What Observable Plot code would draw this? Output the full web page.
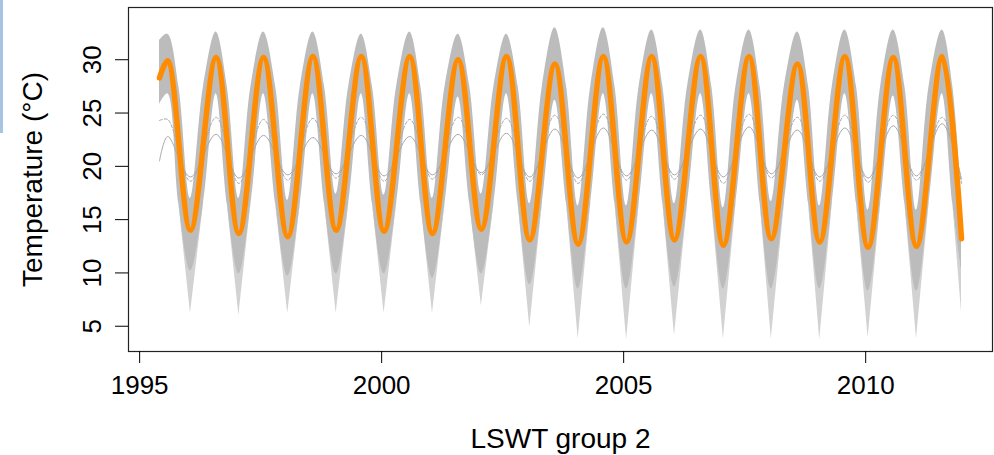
<!DOCTYPE html>
<html><head><meta charset="utf-8">
<script src="https://cdn.jsdelivr.net/npm/d3@7"></script>
<script src="https://cdn.jsdelivr.net/npm/@observablehq/plot@0.6"></script>
<style>
body{margin:0;background:#fff;}
#wrap{position:relative;width:994px;height:455px;}
#bar{position:absolute;left:0;top:0;width:3px;height:133px;background:#a7c4e2;}
</style>
</head><body><div id="wrap"><div id="bar"></div></div>
<script>
// Ensemble mean (orange) at its turning points
const meanYear = [1995.41, 1995.58, 1996.05, 1996.58, 1997.05, 1997.56, 1998.06, 1998.58, 1999.06, 1999.58, 2000.05, 2000.58, 2001.05, 2001.58, 2002.06, 2002.58, 2003.06, 2003.58, 2004.06, 2004.58, 2005.06, 2005.58, 2006.05, 2006.59, 2007.06, 2007.59, 2008.05, 2008.59, 2009.05, 2009.57, 2010.05, 2010.57, 2011.05, 2011.58, 2011.98];
const meanTemp = [28.3, 29.9, 14.0, 30.2, 13.7, 30.2, 13.4, 30.3, 14.0, 30.3, 13.9, 30.3, 13.7, 30.0, 14.1, 30.3, 13.1, 29.6, 12.7, 30.3, 12.9, 30.3, 13.1, 30.3, 12.6, 30.3, 13.2, 29.6, 12.9, 30.3, 12.4, 30.2, 12.5, 30.3, 13.2];

// Two low-amplitude ensemble members visible inside the band
const memberA = [24.3, 24.4, 18.6, 24.6, 18.4, 24.4, 18.7, 24.5, 18.9, 24.6, 18.6, 24.4, 18.8, 24.6, 19.2, 24.5, 18.6, 24.8, 18.4, 24.9, 18.7, 24.7, 18.8, 24.8, 18.4, 24.9, 18.9, 24.6, 18.6, 24.8, 18.5, 24.8, 18.7, 24.6, 18.4];
const memberB = [20.5, 22.8, 19.0, 23.0, 18.9, 22.9, 19.2, 22.7, 19.3, 22.9, 19.1, 22.8, 19.2, 23.0, 19.4, 23.1, 19.0, 23.5, 18.9, 23.6, 19.1, 23.4, 19.2, 23.5, 19.0, 23.7, 19.3, 23.4, 19.0, 23.6, 18.9, 23.8, 19.1, 24.0, 18.8];

// Envelope of the grey ensemble: peak, mid-fall, trough, mid-rise of every cycle
const bandYear = [1995.41, 1995.58, 1995.81, 1996.05, 1996.32, 1996.58, 1996.81, 1997.05, 1997.30, 1997.56, 1997.81, 1998.06, 1998.32, 1998.58, 1998.82, 1999.06, 1999.32, 1999.58, 1999.81, 2000.05, 2000.31, 2000.58, 2000.81, 2001.05, 2001.31, 2001.58, 2001.82, 2002.06, 2002.32, 2002.58, 2002.82, 2003.06, 2003.32, 2003.58, 2003.82, 2004.06, 2004.32, 2004.58, 2004.82, 2005.06, 2005.32, 2005.58, 2005.81, 2006.05, 2006.32, 2006.59, 2006.82, 2007.06, 2007.32, 2007.59, 2007.82, 2008.05, 2008.32, 2008.59, 2008.82, 2009.05, 2009.31, 2009.57, 2009.81, 2010.05, 2010.31, 2010.57, 2010.81, 2011.05, 2011.31, 2011.58, 2011.80, 2011.98];
const bandHigh = [31.8, 32.4, 27.5, 17.0, 27.5, 32.6, 27.5, 17.0, 27.5, 32.6, 27.5, 16.8, 27.5, 32.6, 27.5, 17.4, 27.5, 32.4, 27.5, 17.3, 27.5, 32.6, 27.5, 17.0, 27.5, 32.4, 27.5, 17.4, 27.5, 32.4, 27.5, 16.5, 27.5, 33.0, 27.5, 16.3, 27.5, 33.0, 27.5, 16.3, 27.5, 32.8, 27.5, 16.5, 27.5, 32.8, 27.5, 16.1, 27.5, 32.8, 27.5, 16.7, 27.5, 32.6, 27.5, 16.3, 27.5, 32.8, 27.5, 15.9, 27.5, 32.8, 27.5, 15.9, 27.5, 32.8, 27.5, 16.8];
const bandLow = [25.8, 26.8, 16.5, 10.2, 16.5, 26.8, 16.5, 9.9, 16.5, 26.8, 16.5, 9.7, 16.5, 26.8, 16.5, 9.9, 16.5, 26.8, 16.5, 9.9, 16.5, 26.8, 16.5, 9.5, 16.5, 26.5, 16.5, 9.9, 16.5, 26.8, 16.5, 8.9, 16.5, 26.2, 16.5, 8.5, 16.5, 26.8, 16.5, 8.5, 16.5, 26.8, 16.5, 8.7, 16.5, 26.8, 16.5, 8.5, 16.5, 26.8, 16.5, 8.5, 16.5, 26.2, 16.5, 8.5, 16.5, 26.8, 16.5, 8.3, 16.5, 26.6, 16.5, 8.3, 16.5, 26.8, 16.5, 10.0];
const bandTip = [25.8, 26.8, 16.5, 6.2, 16.5, 26.8, 16.5, 6.0, 16.5, 26.8, 16.5, 6.2, 16.5, 26.8, 16.5, 6.2, 16.5, 26.8, 16.5, 6.2, 16.5, 26.8, 16.5, 6.2, 16.5, 26.5, 16.5, 6.9, 16.5, 26.8, 16.5, 4.9, 16.5, 26.2, 16.5, 3.8, 16.5, 26.8, 16.5, 3.7, 16.5, 26.8, 16.5, 4.1, 16.5, 26.8, 16.5, 3.8, 16.5, 26.8, 16.5, 3.8, 16.5, 26.2, 16.5, 3.7, 16.5, 26.8, 16.5, 3.9, 16.5, 26.6, 16.5, 3.8, 16.5, 26.8, 16.5, 6.3];

const xTicks = [1995, 2000, 2005, 2010];
const yTicks = [5, 10, 15, 20, 25, 30];
const xTitle = "LSWT group 2";
const yTitle = "Temperature (\u00B0C)";

const mean = meanYear.map((x, i) => ({x, y: meanTemp[i], a: memberA[i], b: memberB[i]}));
const band = bandYear.map((x, i) => ({x, hi: bandHigh[i], lo: bandLow[i], tip: bandTip[i]}));

const chart = Plot.plot({
  width: 994,
  height: 455,
  marginLeft: 128,
  marginRight: 2,
  marginTop: 7,
  marginBottom: 104,
  style: {fontFamily: "'Liberation Sans', Arial, sans-serif", fontSize: "26px", color: "#000", background: "#fff"},
  x: {domain: [1994.77, 2012.62]},
  y: {domain: [2.63, 34.9]},
  marks: [
    Plot.areaY(band, {x: "x", y1: "tip", y2: "lo", curve: "linear", fill: "#d2d2d2"}),
    Plot.areaY(band, {x: "x", y1: "lo", y2: "hi", curve: "catmull-rom", fill: "#bcbcbc"}),
    Plot.line(mean, {x: "x", y: "a", curve: "catmull-rom", stroke: "#a8a8a8", strokeWidth: 1, strokeDasharray: "3,2"}),
    Plot.line(mean, {x: "x", y: "b", curve: "catmull-rom", stroke: "#a8a8a8", strokeWidth: 1}),
    Plot.line(mean, {x: "x", y: "y", curve: "catmull-rom", stroke: "#ff8c00", strokeWidth: 5.5}),
    Plot.frame({stroke: "#222", strokeWidth: 1.2}),
    Plot.axisX({ticks: xTicks, tickFormat: d => String(d), tickSize: 12, tickPadding: 12, label: null}),
    Plot.axisX({ticks: [], tickSize: 0, label: xTitle, labelAnchor: "center", labelArrow: "none", labelOffset: 96, fontSize: 28}),
    Plot.axisY({ticks: yTicks, tickSize: 13, tickPadding: 15, tickRotate: -90, label: null}),
    Plot.axisY({ticks: [], tickSize: 0, label: yTitle, labelAnchor: "center", labelArrow: "none", labelOffset: 106, fontSize: 28})
  ]
});
document.getElementById("wrap").appendChild(chart);
</script>
</body></html>
